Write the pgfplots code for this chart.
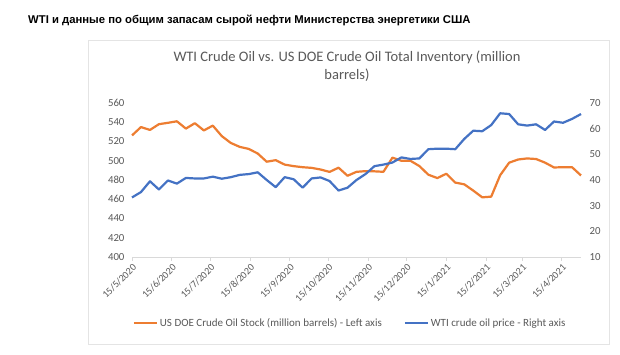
\documentclass[border=0pt]{standalone}
\usepackage{fontspec}
\setmainfont{Carlito}
\newfontfamily\titlefont{Liberation Sans}
\usepackage{pgfplots}
\usepackage{pgfplotstable}
\pgfplotsset{compat=1.18}
\definecolor{oilorange}{HTML}{ED7D31}
\definecolor{oilblue}{HTML}{4472C4}
\definecolor{txtgray}{HTML}{595959}
\definecolor{linegray}{HTML}{D9D9D9}

\pgfplotstableread{
day stock
0 526.3
7 535
14 532
21 538
28 539.4
35 541
42 533.4
49 539
56 531.5
63 536.5
70 525.6
77 518.5
84 514.4
91 512.3
98 507.5
105 499
112 500.6
119 496
126 494.4
133 493.3
140 492.6
147 490.9
154 488.4
161 492.8
168 484.4
175 488.5
182 489.2
189 489
196 488.5
203 503.2
210 500
217 500
224 494.5
231 485.5
238 482
245 486.5
252 477.3
259 475.5
266 469
273 462
280 462.7
287 485
294 498
301 501.3
308 502.4
315 501.8
322 498
329 493
336 493.3
343 493.3
350 484.7
}\stocktable

\pgfplotstableread{
day price
0 33.2
7 35.3
14 39.5
21 36.3
28 39.8
35 38.6
42 40.8
49 40.6
56 40.6
63 41.3
70 40.5
77 41.1
84 42
91 42.3
98 43
105 40
112 37.2
119 41.1
126 40.3
133 37
140 40.6
147 41
154 39.6
161 35.9
168 37
175 40
182 42.3
189 45.4
196 46
203 46.8
210 48.8
217 48.2
224 48.4
231 52
238 52.2
245 52.2
252 52
259 56
266 59.2
273 59
280 61.4
287 66
294 65.7
301 61.7
308 61.2
315 61.7
322 59.5
329 62.8
336 62.3
343 63.8
350 65.7
}\pricetable

\pgfplotsset{
  common/.style={
    at={(132pt,98pt)}, anchor=south west,
    scale only axis, width=449pt, height=154pt,
    xmin=0, xmax=350,
    y axis line style={draw=none},
    y tick style={draw=none},
    y tick label style={font=\fontsize{10.8}{12}\selectfont, text=txtgray},
    /pgf/number format/assume math mode=true,
    clip=false,
  }
}

\begin{document}
\begin{tikzpicture}
\useasboundingbox (0pt,0pt) rectangle (620pt,355pt);
\fill[white] (0pt,0pt) rectangle (620pt,355pt);
\draw[linegray!70, line width=0.6pt] (88pt,11pt) rectangle (609pt,315pt);
\node[anchor=base west, inner sep=0pt, font=\titlefont\bfseries\fontsize{11.3}{13}\selectfont] at (28pt,331pt)
  {WTI и данные по общим запасам сырой нефти Министерства энергетики США};
\node[anchor=base, inner sep=0pt, text=txtgray, font=\fontsize{14.5}{17}\selectfont] at (347pt,293pt)
  {WTI Crude Oil vs. US DOE Crude Oil Total Inventory (million};
\node[anchor=base, inner sep=0pt, text=txtgray, font=\fontsize{14.5}{17}\selectfont] at (347pt,275pt)
  {barrels)};

\begin{axis}[
  common,
  ymin=400, ymax=560,
  axis y line*=left, axis x line*=bottom,
  x axis line style={linegray, line width=0.8pt},
  xtick={0,31,61,92,123,153,184,214,245,276,304,335},
  xticklabels={15/5/2020,15/6/2020,15/7/2020,15/8/2020,15/9/2020,15/10/2020,15/11/2020,15/12/2020,15/1/2021,15/2/2021,15/3/2021,15/4/2021},
  x tick label style={rotate=45, anchor=north east, font=\fontsize{10}{12}\selectfont, text=txtgray, inner sep=1.5pt},
  x tick style={linegray, line width=0.8pt},
  tick align=outside, major tick length=4pt,
  ytick={400,420,...,560},
  legend columns=2,
  legend style={at={(0.486,-0.43)}, anchor=center, draw=none, fill=none,
    font=\fontsize{11}{13}\selectfont, text=txtgray,
    /tikz/every even column/.append style={column sep=20pt}},
  legend image code/.code={\draw[#1, line width=2pt] (0pt,0pt) -- (23pt,0pt);},
]
\addplot[oilorange, line width=2.2pt, line join=round] table[x=day, y=stock] {\stocktable};
\addlegendentry{US DOE Crude Oil Stock (million barrels) - Left axis}
\addlegendimage{oilblue, line width=2pt}
\addlegendentry{WTI crude oil price - Right axis}
\end{axis}

\begin{axis}[
  common,
  ymin=10, ymax=70,
  axis y line*=right, axis x line*=bottom,
  x axis line style={draw=none},
  xtick=\empty,
  ytick={10,20,...,70},
  yticklabel style={xshift=5pt},
]
\addplot[oilblue, line width=2.2pt, line join=round] table[x=day, y=price] {\pricetable};
\end{axis}
\end{tikzpicture}
\end{document}
